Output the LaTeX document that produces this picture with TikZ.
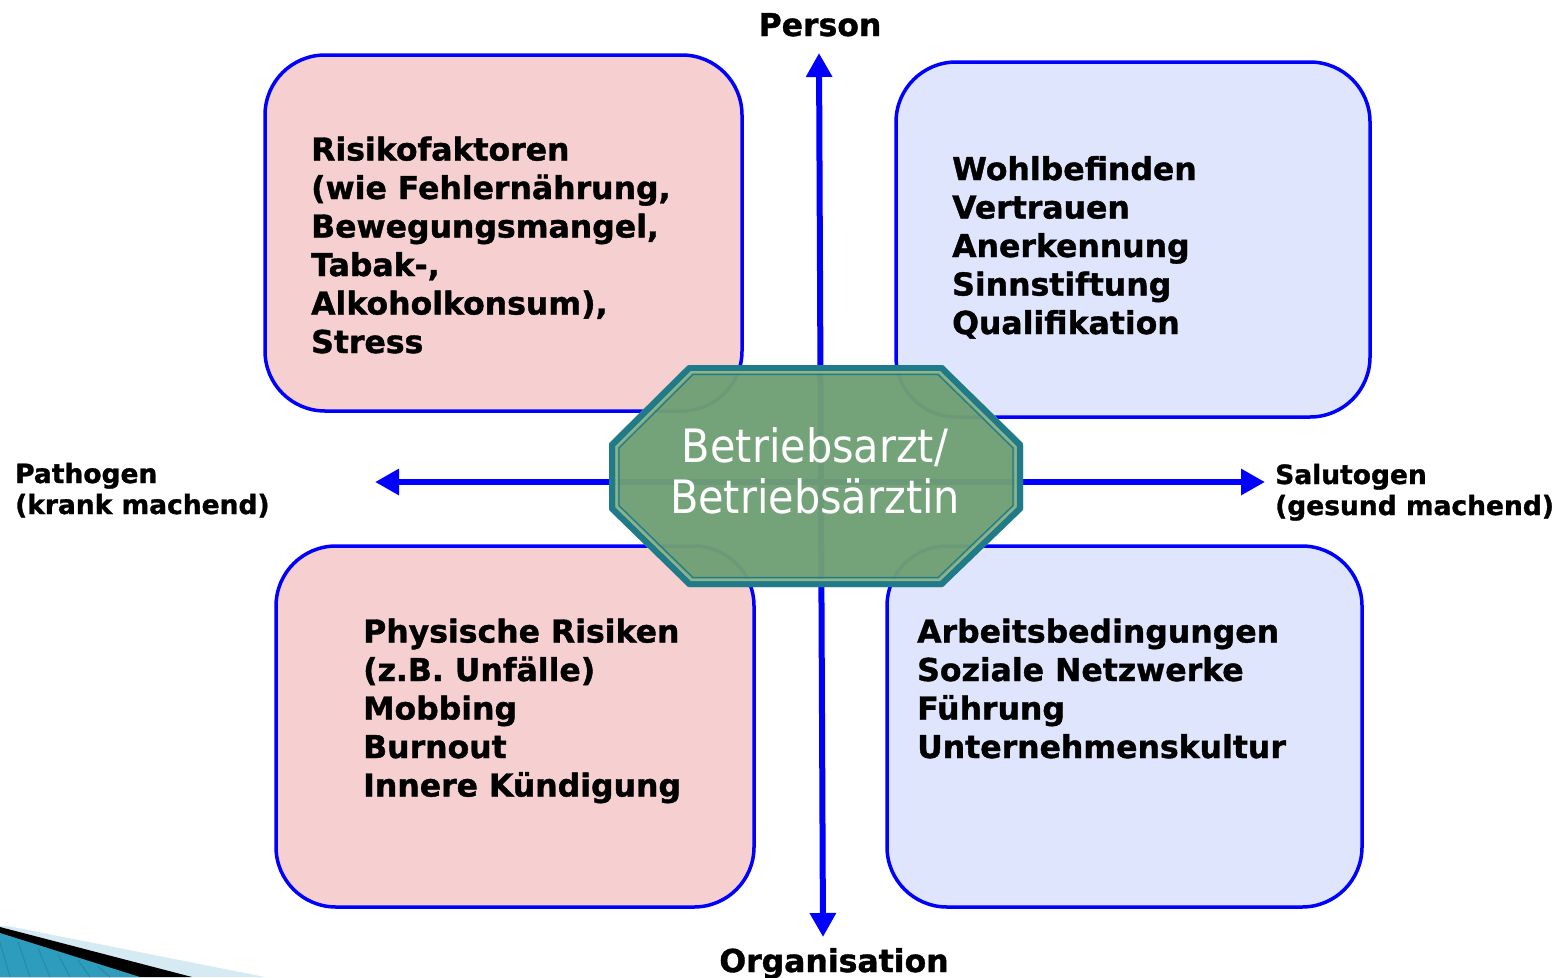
\documentclass[tikz,border=0pt]{standalone}
\usepackage{fontspec}
\setmainfont{DejaVu Sans}[BoldFeatures={FakeBold=1.2}]
\newfontfamily\octfont{DejaVu Sans Condensed}
\usetikzlibrary{arrows.meta}
\definecolor{pinkbox}{HTML}{F6CFD0}
\definecolor{bluebox}{HTML}{DEE5FC}
\definecolor{axisblue}{HTML}{0000FF}
\definecolor{octgreen}{HTML}{70A075}
\definecolor{octteal}{HTML}{1F7A8A}
\definecolor{octlight}{HTML}{8DB48C}
\definecolor{decolight}{HTML}{D5EAF2}
\definecolor{decoteal}{HTML}{2E9CBD}
\definecolor{decostripe}{HTML}{2789A8}
\tikzset{
  quadbox/.style={draw=axisblue, line width=3.5pt, rounded corners=60pt},
  boxtext/.style={anchor=base west, align=left, inner sep=0pt, font=\fontsize{31.5}{38.5}\selectfont\bfseries},
  axislabel/.style={inner sep=0pt, font=\fontsize{31.5}{36}\selectfont\bfseries},
  sidelabel/.style={anchor=base west, align=left, inner sep=0pt, font=\fontsize{26.5}{31}\selectfont\bfseries},
  axisarrow/.style={draw=axisblue, line width=6pt, {Triangle[length=24pt,width=25pt]}-{Triangle[length=24pt,width=25pt]}},
}
\begin{document}
\begin{tikzpicture}[x=1pt,y=-1pt]
\useasboundingbox (0,0) rectangle (1562,977);
% decoration bottom left
\fill[decolight] (8,926) -- (265,977) -- (0,977) -- (0,926) -- cycle;
\fill[black] (0,927) -- (192,977) -- (0,977) -- cycle;
\fill[decoteal] (0,933) -- (140,977) -- (0,977) -- cycle;
\foreach \s in {10,30,50,70,90,110}{
  \draw[decostripe, line width=1pt] (\s,977) -- ({\s-12},{936+(\s-12)*0.31});
}
% quadrant boxes
\draw[quadbox, fill=pinkbox] (265,55) rectangle (742,411);
\draw[quadbox, fill=bluebox] (896,62) rectangle (1370,417);
\draw[quadbox, fill=pinkbox] (276,546) rectangle (754,907);
\draw[quadbox, fill=bluebox] (887,546) rectangle (1362,907);
\node[boxtext] (tl) at (311,353) {Risikofaktoren\\(wie Fehlernährung,\\Bewegungsmangel,\\Tabak-,\\Alkoholkonsum),\\Stress};
\node[boxtext] (tr) at (952,334) {Wohlbefinden\\Vertrauen\\Anerkennung\\Sinnstiftung\\Qualifikation};
\node[boxtext] (bl) at (363,796.5) {Physische Risiken\\(z.B. Unfälle)\\Mobbing\\Burnout\\Innere Kündigung};
\node[boxtext] (br) at (917,758) {Arbeitsbedingungen\\Soziale Netzwerke\\Führung\\Unternehmenskultur};
% axis labels
\node[axislabel, anchor=base] (person) at (820,36) {Person};
\node[axislabel, anchor=base] (organisation) at (834,972) {Organisation};
\node[sidelabel] (pathogen) at (15,514) {Pathogen\\(krank machend)};
\node[sidelabel] (salutogen) at (1275,515) {Salutogen\\(gesund machend)};
% axes
\coordinate (T) at (819,53);
\coordinate (B) at (823,937);
\coordinate (L) at (375,482);
\coordinate (R) at (1265,482);
\draw[axisarrow] (B) -- (T);
\draw[axisarrow] (L) -- (R);
% central octagon
\node[minimum width=414pt, minimum height=222pt, inner sep=0pt] (oct) at (816,476) {};
\fill[octgreen, fill opacity=0.97] (688,365) -- (943,365) -- (1023,443) -- (1023,510) -- (943,587) -- (688,587) -- (609,510) -- (609,443) -- cycle;
\draw[octteal, line width=6pt, line join=round] (689.5,368) -- (941.5,368) -- (1020,445) -- (1020,508.5) -- (941.5,584) -- (689.5,584) -- (612,508.5) -- (612,445) -- cycle;
\draw[octlight, line width=2pt] (691.5,372) -- (939.5,372) -- (1015.5,447) -- (1015.5,506.5) -- (939.5,580) -- (691.5,580) -- (616.5,506.5) -- (616.5,447) -- cycle;
\draw[octteal, line width=1.2pt] (693,374.5) -- (938,374.5) -- (1013,448) -- (1013,505.5) -- (938,577.5) -- (693,577.5) -- (619,505.5) -- (619,448) -- cycle;
\node[align=center, text=white, inner sep=0pt, anchor=base, font=\octfont\fontsize{46}{51}\selectfont] (octtext) at (815,513) {Betriebsarzt/\\Betriebsärztin};
\end{tikzpicture}
\end{document}
